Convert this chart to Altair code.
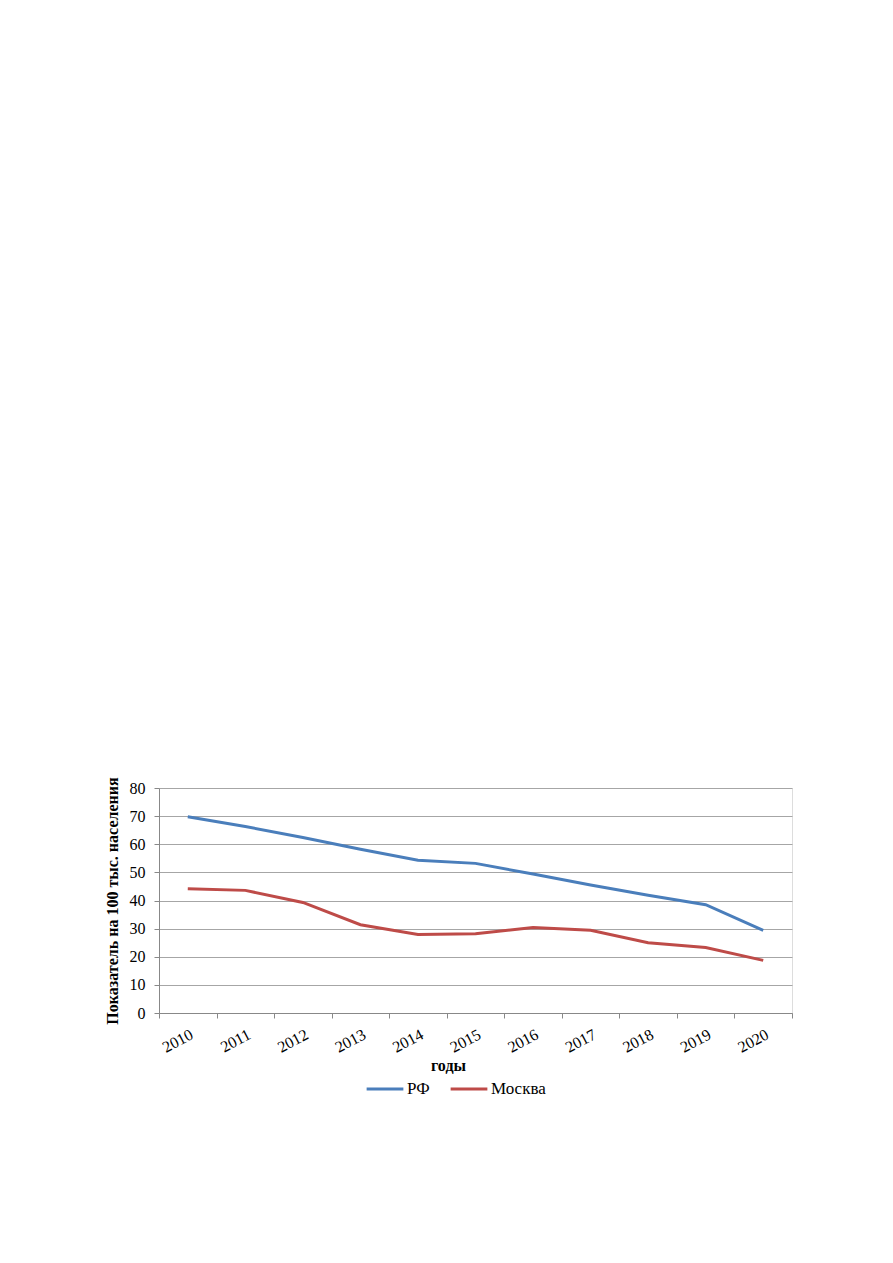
import altair as alt
import pandas as pd

years = ["2010", "2011", "2012", "2013", "2014", "2015", "2016", "2017", "2018", "2019", "2020"]
rf = [69.8, 66.3, 62.4, 58.2, 54.3, 53.2, 49.4, 45.5, 41.9, 38.5, 29.4]
moscow = [44.2, 43.6, 39.3, 31.4, 27.9, 28.2, 30.4, 29.4, 25.0, 23.3, 18.7]
series_names = ["РФ", "Москва"]
colors = ["#4A7EBB", "#BE4B48"]

rows = []
for i, y in enumerate(years):
    rows.append({"year": y, "value": rf[i], "series": series_names[0]})
    rows.append({"year": y, "value": moscow[i], "series": series_names[1]})
df = pd.DataFrame(rows)

font = "Liberation Serif"

chart = alt.Chart(df).mark_line(strokeWidth=3, interpolate="linear").encode(
    x=alt.X("year:N", sort=years,
            scale=alt.Scale(paddingInner=0, paddingOuter=0),
            axis=alt.Axis(title="годы", labelAngle=-28, labelFontSize=16,
                          labelFont=font, labelColor="#000", titleFont=font,
                          titleFontSize=16, titleFontWeight="bold", titleColor="#000",
                          grid=False, tickBand="extent", domainColor="#888",
                          tickColor="#888", tickSize=5, labelPadding=8,
                          titleX=289, titleY=44)),
    y=alt.Y("value:Q", scale=alt.Scale(domain=[0, 80]),
            axis=alt.Axis(title="Показатель на 100 тыс. населения", values=list(range(0, 81, 10)),
                          labelFontSize=16, labelFont=font, labelColor="#000",
                          titleFont=font, titleFontSize=16, titleFontWeight="bold",
                          titleColor="#000", gridColor="#a6a6a6", domainColor="#888",
                          tickColor="#888", tickSize=5, labelPadding=9, titlePadding=9)),
    color=alt.Color("series:N", sort=series_names,
                    scale=alt.Scale(domain=series_names, range=colors),
                    legend=alt.Legend(title=None, orient="none", direction="horizontal",
                                      legendX=206, legendY=281, symbolType="stroke",
                                      symbolSize=1350, symbolStrokeWidth=3,
                                      labelFont=font, labelFontSize=17, labelColor="#000",
                                      labelOffset=2, columnPadding=14)),
).properties(width=633, height=225, padding={"left": 95, "top": 768, "right": 5, "bottom": 5}
).configure_view(stroke=None).configure(background="white")

chart.save("out.html", embed_options={"renderer": "svg", "actions": False})
